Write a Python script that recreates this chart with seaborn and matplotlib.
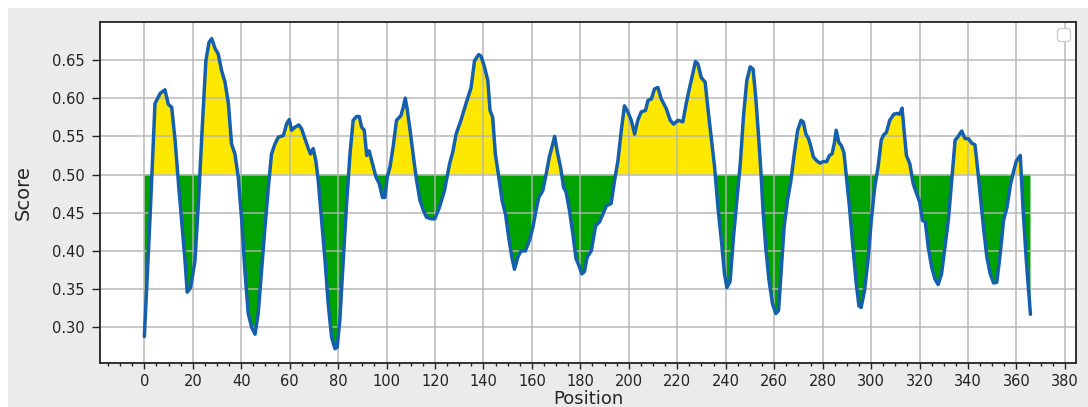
import numpy as np
import matplotlib
matplotlib.use("Agg")
import matplotlib.pyplot as plt
import seaborn as sns
from matplotlib.ticker import MultipleLocator

# Score profile (position, score)
position = [0, 2.3, 4.4, 6.5, 8.5, 9.9, 11.3, 12.7, 14.0, 15.4, 16.8, 17.7, 19.1,
            20.9, 22.3, 23.7, 25.4, 26.7, 27.8, 29.2, 30.5, 31.9, 33.3, 34.7, 36.0,
            37.4, 38.8, 40.2, 41.5, 42.9, 44.3, 45.7, 47.0, 48.4, 49.8, 51.2, 52.5,
            53.9, 55.3, 57.4, 58.7, 59.8, 60.8, 62.2, 63.8, 64.9, 66.3, 67.7, 68.6,
            69.7, 70.8, 71.8, 73.2, 74.6, 75.9, 77.3, 78.7, 79.6, 80.7, 82.1, 83.5,
            84.9, 86.2, 87.6, 88.7, 89.7, 90.8, 91.8, 92.8, 94.2, 95.6, 97.0, 98.3,
            99.3, 100.3, 101.4, 102.7, 104.1, 105.9, 106.9, 107.7, 108.5, 109.9,
            111.3, 112.4, 113.8, 115.2, 116.5, 118.6, 119.9,
            121.8, 123.9, 126.0, 127.3, 128.7, 130.7, 132.8, 134.9, 136.3, 138.0,
            139.0, 140.4, 141.8, 142.7, 143.8, 144.9, 146.3, 147.7, 149.1, 150.4,
            151.7, 152.8, 154.2, 155.5, 157.3, 159.0, 160.4, 161.7, 162.8, 164.5,
            165.9, 167.2, 168.6, 169.4, 170.4, 171.8, 173.1, 174.1, 175.5, 176.9,
            178.2, 179.4, 180.6, 181.7, 182.8, 184.5, 186.3, 187.9, 189.3, 190.7,
            192.7, 194.1, 195.5, 196.9, 198.2, 199.6, 201.0, 202.4, 203.7, 205.1,
            206.9, 207.9, 209.3, 210.6, 212.0, 213.4, 215.5, 217.1, 218.5, 220.3,
            222.3, 223.7, 225.1, 226.4, 227.5, 228.5, 229.9, 231.5, 232.6, 234.0,
            235.4, 236.8, 238.2, 239.5, 240.5, 241.8, 243.2, 244.6, 246.0, 247.4,
            248.7, 250.1,
            251.3, 252.4, 253.5, 254.5, 255.4, 256.5, 257.9, 259.3, 260.7, 261.8,
            262.8, 264.1, 265.5, 266.9, 268.3, 269.7, 271.1, 272.0, 273.1, 274.2,
            275.2, 276.2, 277.6, 278.9, 280.3, 281.7, 282.8, 283.9, 284.9, 285.6,
            286.7, 287.7, 288.8, 289.7, 291.1, 292.5, 293.9, 295.0, 295.9, 297.3,
            298.7, 300.1, 301.5, 302.9, 304.2, 305.2, 306.3, 307.7, 309.4, 310.7,
            311.8, 312.8, 313.5, 314.6, 316.0, 317.4, 318.8, 320.1, 321.2, 322.4,
            323.6, 325.0, 326.4, 327.7, 329.1, 330.5, 331.9, 333.3, 334.7, 336.0,
            337.4, 338.8, 340.2, 341.6, 342.9, 343.9, 345.0, 346.4, 347.8, 349.2,
            350.6, 351.9, 353.3, 354.7, 356.1, 357.5, 358.9, 360.0, 361.6, 362.7,
            364.1, 365.8]
score = [0.288, 0.440, 0.593, 0.606, 0.611, 0.592, 0.588, 0.545, 0.492, 0.440, 0.387,
         0.346, 0.352, 0.387, 0.462, 0.549, 0.649, 0.673, 0.678, 0.665, 0.658, 0.636,
         0.621, 0.593, 0.540, 0.527, 0.496, 0.440, 0.374, 0.318, 0.300, 0.291, 0.318,
         0.374, 0.431, 0.483, 0.527, 0.540, 0.549, 0.551, 0.566, 0.572, 0.558, 0.562,
         0.565, 0.560, 0.547, 0.534, 0.527, 0.534, 0.518, 0.492, 0.440, 0.387, 0.331,
         0.287, 0.272, 0.274, 0.309, 0.387, 0.462, 0.527, 0.571, 0.576, 0.576, 0.562,
         0.558, 0.525, 0.531, 0.514, 0.497, 0.488, 0.470, 0.470, 0.497, 0.510, 0.536,
         0.571, 0.577, 0.588, 0.600, 0.586, 0.553, 0.518, 0.492, 0.466, 0.453, 0.444,
         0.442, 0.442,
         0.457, 0.479, 0.514, 0.529, 0.553, 0.571, 0.593, 0.614, 0.649, 0.657, 0.655,
         0.641, 0.623, 0.584, 0.575, 0.527, 0.497, 0.466, 0.448, 0.418, 0.392, 0.376,
         0.392, 0.400, 0.400, 0.414, 0.431, 0.453, 0.470, 0.479, 0.501, 0.523, 0.540,
         0.550, 0.531, 0.510, 0.483, 0.477, 0.453, 0.422, 0.390, 0.381, 0.370, 0.373,
         0.392, 0.400, 0.433, 0.438, 0.448, 0.459, 0.462, 0.492, 0.518, 0.558, 0.590,
         0.582, 0.571, 0.553, 0.571, 0.582, 0.584, 0.597, 0.599, 0.612, 0.614, 0.599,
         0.586, 0.571, 0.566, 0.571, 0.569, 0.593, 0.614, 0.632, 0.648, 0.645, 0.627,
         0.621, 0.588, 0.549, 0.510, 0.457, 0.414, 0.370, 0.352, 0.360, 0.418, 0.466,
         0.514, 0.579, 0.623, 0.641,
         0.638, 0.601, 0.553, 0.505, 0.453, 0.405, 0.361, 0.331, 0.318, 0.322, 0.370,
         0.431, 0.466, 0.492, 0.527, 0.558, 0.571, 0.569, 0.553, 0.547, 0.536, 0.523,
         0.518, 0.515, 0.517, 0.517, 0.525, 0.527, 0.542, 0.558, 0.542, 0.538, 0.529,
         0.501, 0.457, 0.405, 0.357, 0.328, 0.326, 0.348, 0.387, 0.440, 0.483, 0.510,
         0.545, 0.552, 0.555, 0.571, 0.579, 0.580, 0.579, 0.587, 0.562, 0.525, 0.514,
         0.488, 0.475, 0.464, 0.440, 0.438, 0.405, 0.379, 0.363, 0.356, 0.370, 0.405,
         0.440, 0.492, 0.545, 0.550, 0.557, 0.547, 0.547, 0.541, 0.539, 0.510, 0.475,
         0.431, 0.392, 0.370, 0.358, 0.359, 0.396, 0.440, 0.457, 0.486, 0.505, 0.518,
         0.525, 0.457, 0.387, 0.317]
threshold = 0.5

pos = np.array(position)
sc = np.array(score)

sns.set_style("white")
plt.rcParams["font.family"] = ["DejaVu Sans"]

fig = plt.figure(figsize=(10.88, 4.07), dpi=100)
fig.patch.set_facecolor("white")
# gray panel behind the axes
fig.patches.append(plt.Rectangle((8 / 1088, 0), 1, 1 - 8 / 407, transform=fig.transFigure,
                                 facecolor="#ebebeb", edgecolor="none", zorder=-10))
ax = fig.add_axes([100 / 1088, 44 / 407, 976 / 1088, 341 / 407])
ax.set_facecolor("white")

# fills under the grid, line on top
ax.fill_between(pos, sc, threshold, where=sc >= threshold, interpolate=True,
                color="#ffe800", linewidth=0, zorder=1)
ax.fill_between(pos, sc, threshold, where=sc <= threshold, interpolate=True,
                color="#00a300", linewidth=0, zorder=1)
sns.lineplot(x=pos, y=sc, ax=ax, color="#1560ac", linewidth=2.5, sort=False, zorder=3)

ax.set_xlim(-18.3, 384.6)
ax.set_ylim(0.2533, 0.6997)
ax.xaxis.set_major_locator(MultipleLocator(20))
ax.xaxis.set_minor_locator(MultipleLocator(5))
ax.yaxis.set_major_locator(MultipleLocator(0.05))
ax.set_axisbelow("line")
ax.grid(True, which="major", color="#b4b4b4", linewidth=1.2, alpha=0.85)

ax.tick_params(axis="y", which="major", direction="out", length=6, width=1,
               pad=5, labelsize=10.5, colors="#222222", left=True)
ax.tick_params(axis="x", which="major", direction="out", length=4, width=1,
               pad=4, labelsize=10.5, colors="#222222", bottom=True)
ax.tick_params(axis="x", which="minor", direction="out", length=2.5, width=1,
               bottom=True, colors="#222222")
for s in ax.spines.values():
    s.set_color("#222222")
    s.set_linewidth(1.3)

ax.set_xlabel("Position", fontsize=13, labelpad=1)
ax.set_ylabel("Score", fontsize=14, labelpad=14,
              family=["Liberation Sans Narrow", "DejaVu Sans"])
ax.legend(handles=[], loc="upper right", fontsize=9, framealpha=1,
          edgecolor="#cccccc", borderpad=0.5)

fig.savefig("out.png", dpi=100)
